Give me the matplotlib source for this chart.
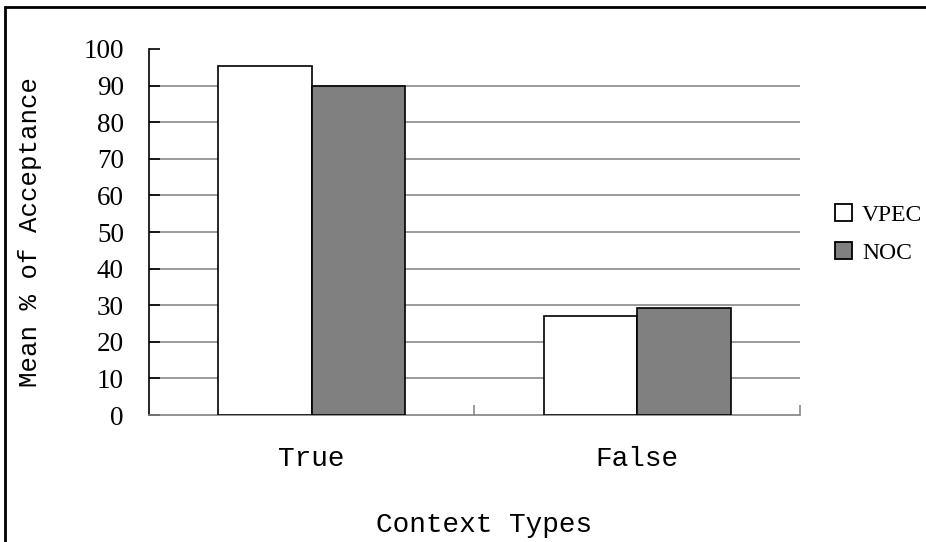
import matplotlib
matplotlib.use("Agg")
import matplotlib.pyplot as plt
import numpy as np
from matplotlib.patches import Patch, Rectangle

categories = ["True", "False"]
series_names = ["VPEC", "NOC"]
vpec = [95.3, 27.1]
noc = [89.9, 29.2]
y_ticks = list(range(0, 101, 10))

serif = "Liberation Serif"
mono = "Liberation Mono"

fig = plt.figure(figsize=(9.26, 5.42), dpi=100)
ax = fig.add_axes([0.1609, 0.2343, 0.703, 0.6753])

# outer chart border, clipped on the right and bottom
fig.patches.append(Rectangle((5 / 926, -0.1), 1.2, 1 - 7 / 542 + 0.1,
                             transform=fig.transFigure, fill=False,
                             edgecolor="black", linewidth=2))

x = np.arange(len(categories)) + 0.5
w = 0.2875
ax.bar(x - w / 2, vpec, w, color="white", edgecolor="black", linewidth=1.2,
       label=series_names[0], zorder=3)
ax.bar(x + w / 2, noc, w, color="#808080", edgecolor="black", linewidth=1.2,
       label=series_names[1], zorder=3)

ax.set_xlim(0, 2)
ax.set_ylim(0, 100)
ax.set_yticks(y_ticks)
ax.set_yticklabels([str(t) for t in y_ticks], fontfamily=serif, fontsize=19.5)
for t in y_ticks[1:-1]:
    ax.axhline(t, color="#808080", linewidth=1.1, zorder=1)

ax.tick_params(axis="y", direction="in", length=8, width=1.2, pad=18,
               color="black")
ax.set_xticks(x)
ax.set_xticklabels(categories, fontfamily=mono, fontsize=20)
ax.tick_params(axis="x", length=0, pad=22)
ax.set_xticks([1, 2], minor=True)
ax.tick_params(axis="x", which="minor", direction="in", length=7,
               width=1.1, color="#808080")

for s in ["top", "right"]:
    ax.spines[s].set_visible(False)
ax.spines["left"].set_linewidth(1.2)
ax.spines["bottom"].set_color("#808080")
ax.spines["bottom"].set_linewidth(1.2)

fig.text(484 / 926, 1 - 525 / 542, "Context Types", fontfamily=mono,
         fontsize=20, ha="center", va="center")
fig.text(30 / 926, 1 - 232 / 542, "Mean % of Acceptance", fontfamily=mono,
         fontsize=18.5, ha="center", va="center", rotation=90)

handles = [Patch(facecolor="white", edgecolor="black", linewidth=1.3),
           Patch(facecolor="#808080", edgecolor="black", linewidth=1.3)]
fig.legend(handles, series_names, loc="center left",
           bbox_to_anchor=(835 / 926, 1 - 234 / 542), frameon=False,
           prop={"family": serif, "size": 17}, handlelength=0.72,
           handleheight=0.72, handletextpad=0.42, labelspacing=0.69,
           borderpad=0, borderaxespad=0)

fig.savefig("out.png", dpi=100)
